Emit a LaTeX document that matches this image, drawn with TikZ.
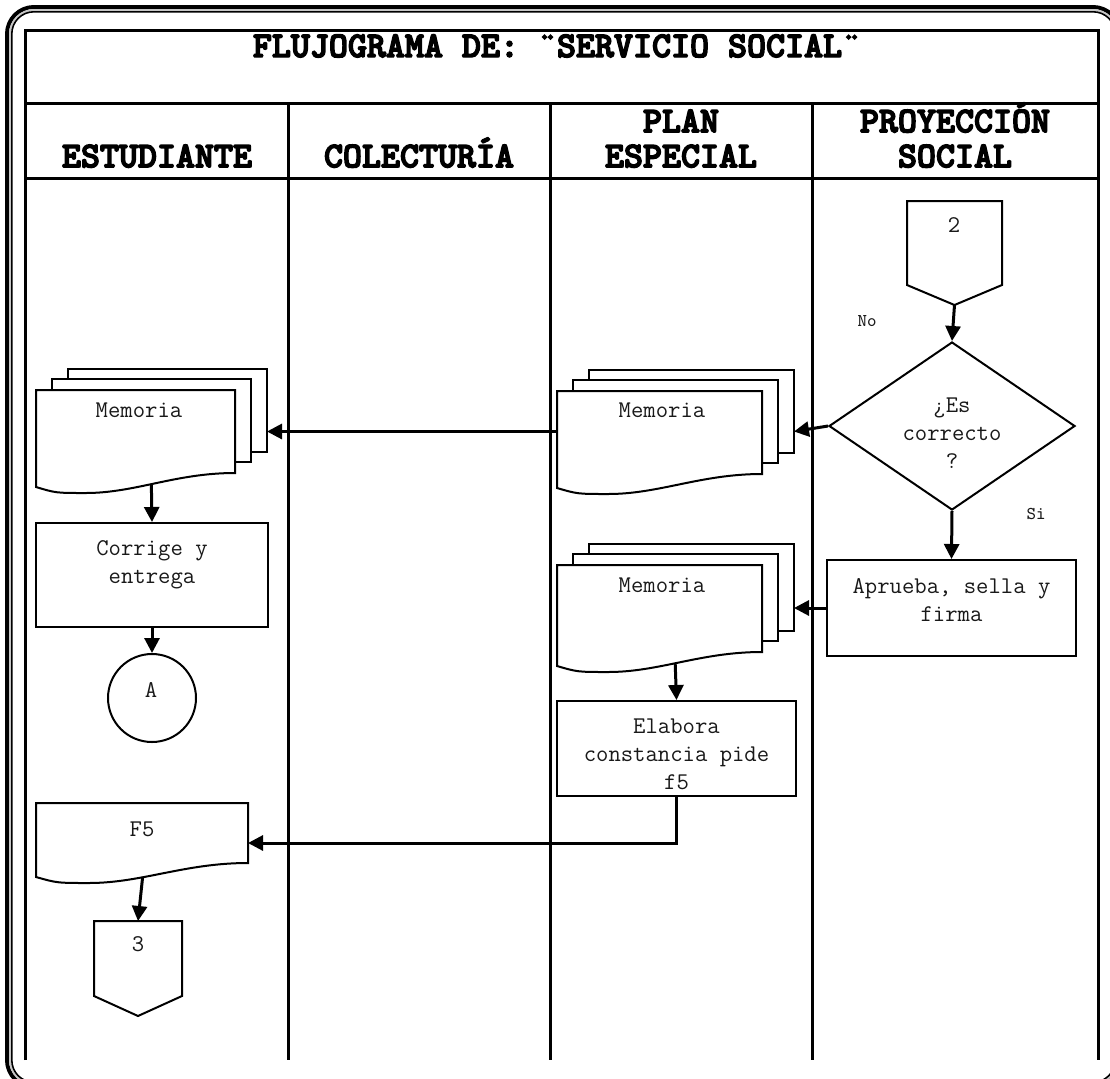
\documentclass[tikz,border=0pt]{standalone}
\usepackage{fontspec}
\newfontfamily\headfont{lmmonolt10-bold}[Extension=.otf, FakeBold=4]
\usetikzlibrary{arrows.meta,shapes.geometric,positioning}

% sheet with a wavy lower edge: left, top, width, height
\newcommand{\docsheet}[4]{%
  \draw[sheet] (#1,#2) -- ({#1+#3},#2) -- ({#1+#3},{#2+#4-14})
    .. controls ({#1+0.7*#3},{#2+#4-14}) and ({#1+0.5*#3},{#2+#4+6}) .. ({#1+0.25*#3},{#2+#4+6})
    .. controls ({#1+0.1*#3},{#2+#4+6}) .. (#1,{#2+#4}) -- cycle;}
% three sheets on top of each other
\newcommand{\docstack}[4]{%
  \draw[sheet] ({#1+32},{#2-21}) rectangle ({#1+32+#3},{#2+#4-35});
  \draw[sheet] ({#1+16},{#2-11}) rectangle ({#1+16+#3},{#2+#4-25});
  \docsheet{#1}{#2}{#3}{#4}}
% off-page connector
\newcommand{\offpage}[4]{%
  \draw[sheet] (#1,#2) -- ({#1+#3},#2) -- ({#1+#3},{#2+#4-20})
    -- ({#1+0.5*#3},{#2+#4}) -- (#1,{#2+#4-20}) -- cycle;}

\begin{document}
\begin{tikzpicture}[x=0.5pt, y=-0.5pt,
    sheet/.style={draw=black, line width=1pt, fill=white},
    hold/.style={inner sep=0pt, outer sep=0pt, anchor=north west},
    proc/.style={draw=black, line width=1pt, fill=white, inner sep=0pt},
    grid/.style={line width=1.5pt},
    arr/.style={line width=1.5pt, -{Triangle[length=7.5pt,width=7.5pt]}},
    txt/.style={font={\ttfamily\fontsize{12}{14}\selectfont}, text=black!90,
        align=center, inner sep=0pt, anchor=north},
    lbl/.style={font={\ttfamily\fontsize{9}{10}\selectfont}, text=black!90,
        inner sep=0pt, anchor=north},
    head/.style={font={\headfont\fontsize{18.1}{17.5}\selectfont},
        align=center, inner sep=0pt}
]
\useasboundingbox (0,0) rectangle (1110,1078);

% Frame
\draw[line width=2pt, rounded corners=13.5pt] (7,7) rectangle (1120,1087);
\draw[line width=1pt, gray!45, rounded corners=12pt] (10,10) rectangle (1117,1084);
\draw[line width=0.8pt, rounded corners=11pt] (11.8,11.8) rectangle (1115.2,1082.2);

% Table
\draw[grid] (25,1060) -- (25,30) -- (1098,30) -- (1098,1060);
\draw[grid] (25,103) -- (1098,103);
\draw[grid] (25,178) -- (1098,178);
\foreach \x in {288,550,812}
    \draw[grid] (\x,103) -- (\x,1060);

% Title and lanes
\node[head, anchor=base] (title) at (557,57) {FLUJOGRAMA DE: ¨SERVICIO SOCIAL¨};
\node[head, anchor=south] (hEst) at (157,168) {ESTUDIANTE};
\node[head, anchor=south] (hCol) at (419,168) {COLECTURÍA};
\node[head, anchor=south] (hPlan) at (681,168) {PLAN\\ESPECIAL};
\node[head, anchor=south] (hProy) at (955,168) {PROYECCIÓN\\SOCIAL};

% Proyeccion social
\offpage{907}{201}{95}{104}
\node[hold, minimum width=47.5pt, minimum height=52pt] (c2) at (907,201) {};
\node[txt] (c2t) at (954,217) {2};
\node[proc, shape=diamond, minimum width=123pt, minimum height=84pt] (dec) at (952,426) {};
\node[txt] (dect) at (952,397) {¿Es\\correcto\\?};
\node[lbl] (no) at (867,315) {No};
\node[lbl] (si) at (1036,508) {Si};
\node[proc, minimum width=124.5pt, minimum height=48pt] (aprob) at (951.5,608) {};
\node[txt] (aprobt) at (951.5,578) {Aprueba, sella y\\firma};

% Plan especial
\docstack{557}{391}{205}{97}
\node[hold, minimum width=118.5pt, minimum height=62.5pt] (planA) at (557,369) {};
\node[txt] (planAt) at (662,402) {Memoria};
\docstack{557}{565}{205}{101}
\node[hold, minimum width=118.5pt, minimum height=64pt] (planB) at (557,544) {};
\node[txt] (planBt) at (662,577) {Memoria};
\node[proc, minimum width=119.5pt, minimum height=47.5pt] (elab) at (676.5,748.5) {};
\node[txt] (elabt) at (676.5,718) {Elabora\\constancia pide\\f5};

% Estudiante
\docstack{36}{390}{199}{97}
\node[hold, minimum width=115.5pt, minimum height=62pt] (estA) at (36,369) {};
\node[txt] (estAt) at (139,402) {Memoria};
\node[proc, minimum width=116pt, minimum height=52pt] (corr) at (152,575) {};
\node[txt] (corrt) at (152,540) {Corrige y\\entrega};
\node[proc, shape=circle, minimum size=44pt] (circA) at (152,698) {};
\node[txt] (circAt) at (151,682) {A};
\docsheet{36}{803}{212}{74}
\node[hold, minimum width=106pt, minimum height=40pt] (f5) at (36,803) {};
\node[txt] (f5t) at (142,821) {F5};
\offpage{94}{921}{88}{95}
\node[hold, minimum width=44pt, minimum height=47.5pt] (c3) at (94,921) {};
\node[txt] (c3t) at (138,936) {3};

% Connectors
\draw[arr] (c2.south) -- (dec.north);
\draw[arr] (dec.west) -- (planA.east);
\draw[arr] (planA.west) -- (planA.west -| estA.east);
\draw[arr, shorten <=-4.5pt] (estA.south) -- (corr.north);
\draw[arr] (corr.south) -- (circA.north);
\draw[arr] (dec.south) -- (aprob.north);
\draw[arr] (aprob.west) -- (planB.east);
\draw[arr, shorten <=-4.5pt] (planB.south) -- (elab.north);
\draw[arr] (elab.south) |- (f5.east);
\draw[arr, shorten <=-3pt] (f5.south) -- (c3.north);

\end{tikzpicture}
\end{document}
